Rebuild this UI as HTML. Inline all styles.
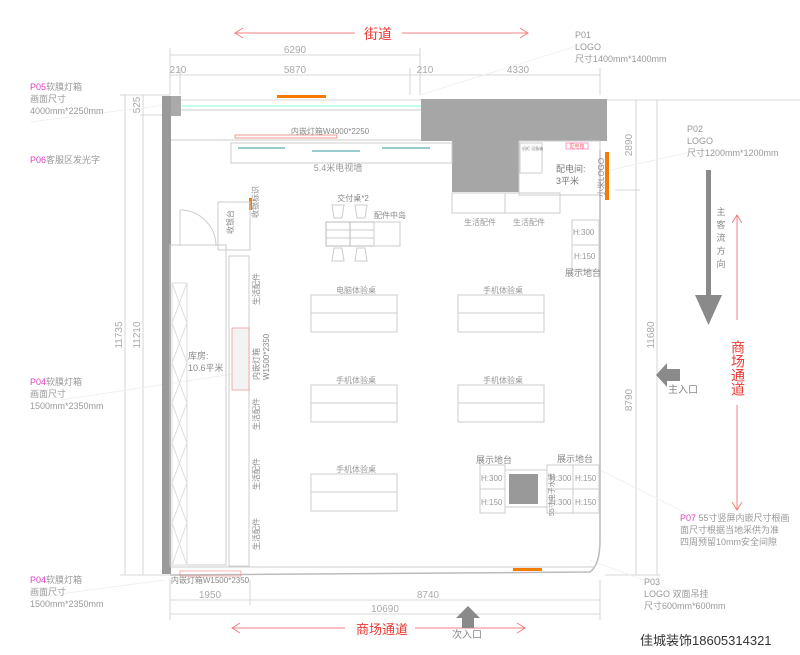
<!DOCTYPE html>
<html><head><meta charset="utf-8"><style>
html,body{margin:0;padding:0;background:#fff;}
svg{display:block;font-family:"Liberation Sans","Noto Sans CJK SC",sans-serif;}
</style></head><body>
<svg width="800" height="655" viewBox="0 0 800 655" xmlns="http://www.w3.org/2000/svg">
<rect width="800" height="655" fill="#fff"/>
<!-- top street arrow -->
<g stroke="#f08080" stroke-width="1" fill="none">
<line x1="235" y1="33" x2="355" y2="33"/><line x1="402" y1="33" x2="528" y2="33"/>
<polyline points="243,28 235,33 243,38"/><polyline points="520,28 528,33 520,38"/>
<line x1="232" y1="628" x2="345" y2="628"/><line x1="415" y1="628" x2="525" y2="628"/>
<polyline points="240,623 232,628 240,633"/><polyline points="517,623 525,628 517,633"/>
<line x1="737" y1="215" x2="737" y2="320"/><line x1="737" y1="405" x2="737" y2="510"/>
<polyline points="732,223 737,215 742,223"/><polyline points="732,502 737,510 742,502"/>
</g>
<text x="378" y="39" font-size="14" fill="#e53935" text-anchor="middle">街道</text>
<text x="382" y="634" font-size="13" fill="#e53935" text-anchor="middle">商场通道</text>
<text font-size="14" fill="#e53935" x="738" y="340" writing-mode="tb" style="writing-mode:vertical-rl" text-anchor="start">商场通道</text>
<!-- dimension lines -->
<g stroke="#ccc" stroke-width="0.8" fill="none">
<line x1="170" y1="55" x2="420" y2="55"/>
<line x1="170" y1="75" x2="600" y2="75"/>
<line x1="170" y1="48" x2="170" y2="95"/><line x1="420" y1="48" x2="420" y2="95"/>
<line x1="180" y1="68" x2="180" y2="95"/><line x1="410" y1="68" x2="410" y2="95"/><line x1="600" y1="68" x2="600" y2="95"/>
<line x1="120" y1="95" x2="170" y2="95"/><line x1="120" y1="575" x2="170" y2="575"/><line x1="140" y1="115" x2="165" y2="115"/>
<line x1="125" y1="95" x2="125" y2="575"/><line x1="143" y1="95" x2="143" y2="575"/>
<line x1="170" y1="100" x2="800" y2="100"/>
<line x1="636" y1="100" x2="636" y2="575"/><line x1="657" y1="100" x2="657" y2="575"/>
<line x1="615" y1="190" x2="640" y2="190"/><line x1="605" y1="575" x2="660" y2="575"/>
<line x1="170" y1="600" x2="600" y2="600"/><line x1="170" y1="614" x2="600" y2="614"/>
<line x1="170" y1="580" x2="170" y2="620"/><line x1="250" y1="580" x2="250" y2="605"/><line x1="600" y1="580" x2="600" y2="620"/>
<line x1="30" y1="122" x2="165" y2="105" stroke="#eee"/><line x1="60" y1="400" x2="260" y2="370" stroke="#eee"/>
<line x1="30" y1="598" x2="165" y2="580" stroke="#eee"/><line x1="610" y1="170" x2="700" y2="150" stroke="#eee"/>
<line x1="590" y1="560" x2="670" y2="590" stroke="#eee"/><line x1="600" y1="470" x2="690" y2="515" stroke="#eee"/>
<line x1="420" y1="95" x2="580" y2="45" stroke="#eee"/>
</g>
<g font-size="10" fill="#aaa" text-anchor="middle">
<text x="295" y="53">6290</text><text x="178" y="73">210</text><text x="295" y="73">5870</text><text x="425" y="73">210</text><text x="518" y="73">4330</text>
<text x="210" y="598">1950</text><text x="428" y="598">8740</text><text x="385" y="612">10690</text>
<text transform="translate(122,335) rotate(-90)">11735</text>
<text transform="translate(140,335) rotate(-90)">11210</text>
<text transform="translate(140,105) rotate(-90)">525</text>
<text transform="translate(632,145) rotate(-90)">2890</text>
<text transform="translate(632,400) rotate(-90)">8790</text>
<text transform="translate(654,335) rotate(-90)">11680</text>
</g>
<!-- walls -->
<rect x="162" y="96" width="9" height="478" fill="#999"/>
<rect x="171" y="96" width="10" height="20" fill="#aaa"/>
<polygon points="421,99 607,99 607,141 519,141 519,192 452,192 452,141 421,141" fill="#a6a6a6"/>
<path d="M600,150 L600,540 Q600,565 590,572 L170,575" stroke="#bbb" stroke-width="1.5" fill="none"/>
<line x1="170" y1="567" x2="595" y2="567" stroke="#ccc"/>
<line x1="181" y1="106" x2="421" y2="106" stroke="#8fd" stroke-width="1"/>
<line x1="181" y1="110" x2="421" y2="110" stroke="#ccc"/>
<line x1="171" y1="140" x2="421" y2="140" stroke="#ccc"/>
<rect x="277" y="95" width="49" height="3" fill="#f57c00"/>
<rect x="605" y="152" width="4" height="48" fill="#f57c00"/>
<rect x="513" y="568" width="29" height="3" fill="#f57c00"/>
<rect x="249" y="198" width="3" height="12" fill="#f57c00"/>
<rect x="235" y="135" width="102" height="3" fill="none" stroke="#f08080" stroke-width="0.8"/>
<text x="330" y="134" font-size="8" fill="#888" text-anchor="middle">内嵌灯箱W4000*2250</text>
<!-- TV wall -->
<rect x="231" y="143" width="221" height="20" fill="none" stroke="#ccc"/>
<line x1="238" y1="148" x2="285" y2="148" stroke="#9cc" stroke-width="2"/><line x1="312" y1="151" x2="360" y2="151" stroke="#9cc" stroke-width="2"/><line x1="382" y1="148" x2="430" y2="148" stroke="#9cc" stroke-width="2"/>
<text x="338" y="171" font-size="9" fill="#999" text-anchor="middle">5.4米电视墙</text>
<!-- distribution room -->
<rect x="519" y="141" width="81" height="54" fill="none" stroke="#ccc"/>
<rect x="520" y="143" width="22" height="30" fill="none" stroke="#ccc"/>
<text x="522" y="150" font-size="4" fill="#888">机柜 设备箱</text>
<rect x="566" y="143" width="22" height="6" fill="none" stroke="#f9c"/>
<text x="577" y="148" font-size="5" fill="#e77" text-anchor="middle">配电箱</text>
<text x="556" y="172" font-size="9" fill="#777">配电间:</text><text x="556" y="184" font-size="9" fill="#777">3平米</text>
<text font-size="8" fill="#888" transform="translate(604,197) rotate(-90)">小米LOGO</text>
<!-- life accessories top -->
<rect x="452" y="193" width="108" height="20" fill="none" stroke="#ccc"/><line x1="505" y1="193" x2="505" y2="213" stroke="#ccc"/>
<text x="480" y="225" font-size="8" fill="#999" text-anchor="middle">生活配件</text><text x="529" y="225" font-size="8" fill="#999" text-anchor="middle">生活配件</text>
<rect x="572" y="220" width="27" height="50" fill="none" stroke="#ccc"/><line x1="572" y1="245" x2="599" y2="245" stroke="#ccc"/>
<text x="573" y="235" font-size="8" fill="#999">H:300</text><text x="574" y="259" font-size="8" fill="#999">H:150</text>
<text x="565" y="276" font-size="9" fill="#888">展示地台</text>
<!-- cashier -->
<rect x="218" y="202" width="32" height="48" fill="none" stroke="#ccc"/>
<text font-size="8" fill="#888" transform="translate(233,234) rotate(-90)">收银台</text>
<text font-size="8" fill="#888" transform="translate(258,218) rotate(-90)">收银标识</text>
<path d="M180,210 A36,36 0 0 1 216,246" stroke="#ccc" fill="none"/><line x1="180" y1="210" x2="180" y2="246" stroke="#ccc"/>
<!-- delivery table -->
<text x="353" y="201" font-size="8" fill="#888" text-anchor="middle">交付桌*2</text>
<text x="374" y="218" font-size="8" fill="#888">配件中岛</text>
<rect x="326" y="222" width="48" height="24" fill="none" stroke="#bbb"/><line x1="350" y1="222" x2="350" y2="246" stroke="#bbb"/><line x1="326" y1="230" x2="374" y2="230" stroke="#ccc"/><line x1="326" y1="238" x2="374" y2="238" stroke="#ccc"/>
<rect x="374" y="222" width="26" height="24" fill="none" stroke="#ccc"/>
<g stroke="#ccc" fill="none"><path d="M332,205 h12 l-2,13 h-8z"/><path d="M355,205 h12 l-2,13 h-8z"/><path d="M332,261 h12 l-2,-13 h-8z"/><path d="M355,261 h12 l-2,-13 h-8z"/></g>
<!-- storage -->
<rect x="170" y="245" width="56" height="320" fill="none" stroke="#ccc"/>
<g stroke="#ddd" fill="none">
<rect x="172" y="283" width="15" height="282"/>
<path d="M172,283 l15,40 M187,283 l-15,40 M172,323 l15,40 M187,323 l-15,40 M172,363 l15,40 M187,363 l-15,40 M172,403 l15,40 M187,403 l-15,40 M172,443 l15,40 M187,443 l-15,40 M172,483 l15,40 M187,483 l-15,40 M172,523 l15,42 M187,523 l-15,42"/>
</g>
<text x="188" y="359" font-size="9" fill="#888">库房:</text><text x="188" y="371" font-size="9" fill="#888">10.6平米</text>
<rect x="229" y="256" width="20" height="310" fill="none" stroke="#ccc"/>
<rect x="232" y="328" width="17" height="62" fill="#f3f3f3" stroke="#f08080" stroke-width="0.6"/>
<g font-size="8" fill="#888">
<text transform="translate(259,305) rotate(-90)">生活配件</text>
<text transform="translate(259,380) rotate(-90)">内嵌灯箱</text>
<text transform="translate(269,380) rotate(-90)">W1500*2350</text>
<text transform="translate(259,430) rotate(-90)">生活配件</text>
<text transform="translate(259,490) rotate(-90)">生活配件</text>
<text transform="translate(259,550) rotate(-90)">生活配件</text>
</g>
<rect x="180" y="571" width="61" height="5" fill="none" stroke="#f08080" stroke-width="0.6"/>
<text x="210" y="583" font-size="8" fill="#888" text-anchor="middle">内嵌灯箱W1500*2350</text>
<!-- experience tables -->
<g fill="none" stroke="#ccc">
<rect x="311" y="295" width="86" height="37"/><line x1="311" y1="313" x2="397" y2="313"/>
<rect x="458" y="295" width="86" height="37"/><line x1="458" y1="313" x2="544" y2="313"/>
<rect x="311" y="385" width="86" height="37"/><line x1="311" y1="403" x2="397" y2="403"/>
<rect x="458" y="385" width="86" height="37"/><line x1="458" y1="403" x2="544" y2="403"/>
<rect x="311" y="474" width="86" height="37"/><line x1="311" y1="492" x2="397" y2="492"/>
</g>
<g font-size="8" fill="#999" text-anchor="middle">
<text x="356" y="293">电脑体验桌</text><text x="503" y="293">手机体验桌</text>
<text x="356" y="383">手机体验桌</text><text x="503" y="383">手机体验桌</text>
<text x="356" y="472">手机体验桌</text>
</g>
<!-- display platforms -->
<g fill="none" stroke="#ccc">
<rect x="480" y="465" width="25" height="48"/><line x1="480" y1="489" x2="505" y2="489"/>
<rect x="505" y="470" width="42" height="37"/>
<rect x="547" y="465" width="52" height="48"/><line x1="547" y1="489" x2="599" y2="489"/><line x1="573" y1="465" x2="573" y2="513"/>
</g>
<rect x="509" y="474" width="29" height="30" fill="#999"/>
<text x="476" y="463" font-size="9" fill="#888">展示地台</text><text x="557" y="462" font-size="9" fill="#888">展示地台</text>
<g font-size="8" fill="#999"><text x="481" y="481">H:300</text><text x="481" y="505">H:150</text><text x="550" y="481">H:300</text><text x="575" y="481">H:150</text><text x="550" y="505">H:300</text><text x="575" y="505">H:150</text></g>
<text font-size="7" fill="#888" transform="translate(554,516) rotate(-90)">55寸电子水牌</text>
<!-- arrows -->
<rect x="706" y="170" width="5" height="125" fill="#8a8a8a"/>
<polygon points="695,295 722,295 708.5,325" fill="#8a8a8a"/>
<polygon points="656,375 667,363 667,369 680,369 680,381 667,381 667,387" fill="#8a8a8a"/>
<polygon points="468,606 480,618 474,618 474,628 462,628 462,618 456,618" fill="#8a8a8a"/>
<g font-size="9" fill="#888" text-anchor="middle"><text x="721" y="215">主</text><text x="721" y="228">客</text><text x="721" y="241">流</text><text x="721" y="254">方</text><text x="721" y="267">向</text></g>
<text x="668" y="393" font-size="10" fill="#888">主入口</text>
<text x="452" y="638" font-size="10" fill="#888">次入口</text>
<!-- annotations -->
<g font-size="9" fill="#999">
<text x="30" y="90"><tspan fill="#e040c0">P05</tspan>软膜灯箱</text><text x="30" y="102">画面尺寸</text><text x="30" y="114">4000mm*2250mm</text>
<text x="30" y="163"><tspan fill="#e040c0">P06</tspan>客服区发光字</text>
<text x="30" y="385"><tspan fill="#e040c0">P04</tspan>软膜灯箱</text><text x="30" y="397">画面尺寸</text><text x="30" y="409">1500mm*2350mm</text>
<text x="30" y="583"><tspan fill="#e040c0">P04</tspan>软膜灯箱</text><text x="30" y="595">画面尺寸</text><text x="30" y="607">1500mm*2350mm</text>
<text x="575" y="38">P01</text><text x="575" y="50">LOGO</text><text x="575" y="62">尺寸1400mm*1400mm</text>
<text x="687" y="132">P02</text><text x="687" y="144">LOGO</text><text x="687" y="156">尺寸1200mm*1200mm</text>
<text x="644" y="585">P03</text><text x="644" y="597">LOGO 双面吊挂</text><text x="644" y="609">尺寸600mm*600mm</text>
<text x="680" y="521"><tspan fill="#e040c0">P07</tspan> 55寸竖屏内嵌尺寸根画</text><text x="680" y="533">面尺寸根据当地采供为准</text><text x="680" y="545">四周预留10mm安全间隙</text>
</g>
<text x="640" y="645" font-size="13" fill="#333">佳城装饰18605314321</text>
</svg>
</body></html>
